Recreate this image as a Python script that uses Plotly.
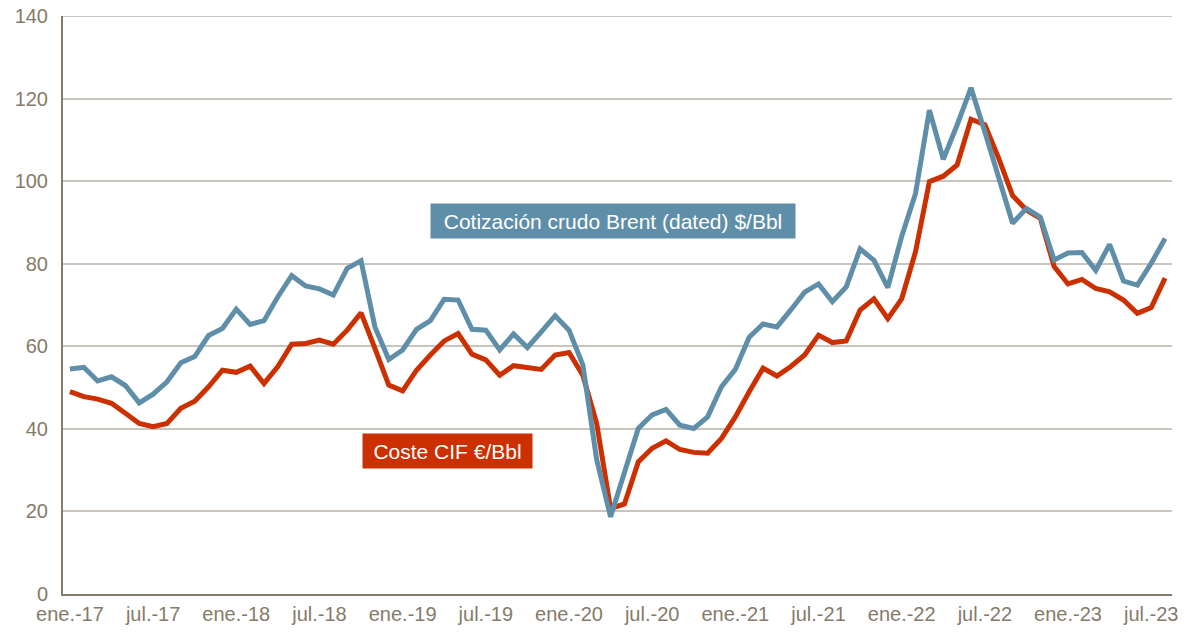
import plotly.graph_objects as go

months_es = ["ene.", "feb.", "mar.", "abr.", "may.", "jun.", "jul.", "ago.", "sep.", "oct.", "nov.", "dic."]
years = list(range(17, 24))
categories = [f"{m}-{y}" for y in years for m in months_es][:80]

brent = [54.5, 54.9, 51.6, 52.6, 50.5, 46.3, 48.4, 51.4, 56.0, 57.5, 62.6, 64.3,
         69.0, 65.3, 66.2, 72.0, 77.1, 74.6, 73.9, 72.4, 78.9, 80.7, 64.7, 56.8,
         59.1, 64.1, 66.2, 71.4, 71.2, 64.1, 63.9, 59.1, 63.0, 59.7, 63.5, 67.4,
         63.9, 55.5, 32.5, 18.7, 29.4, 40.1, 43.4, 44.7, 40.9, 40.1, 42.9, 50.2,
         54.4, 62.2, 65.4, 64.7, 68.8, 73.1, 75.1, 70.8, 74.4, 83.6, 80.8, 74.2,
         86.6, 97.0, 117.2, 105.3, 113.6, 122.6, 111.9, 100.8, 89.8, 93.4, 91.3, 80.9,
         82.6, 82.7, 78.4, 84.7, 75.8, 74.8, 80.1, 86.1]

coste_cif = [49.0, 47.8, 47.2, 46.2, 43.8, 41.3, 40.5, 41.3, 45.0, 46.7, 50.2, 54.2,
             53.7, 55.2, 51.0, 55.1, 60.5, 60.7, 61.5, 60.5, 63.9, 68.1, 59.5, 50.6,
             49.2, 54.2, 57.9, 61.3, 63.1, 58.1, 56.7, 53.0, 55.3, 54.8, 54.4, 57.9,
             58.5, 53.0, 41.3, 20.7, 21.8, 32.0, 35.3, 37.1, 35.0, 34.3, 34.1, 37.7,
             42.9, 49.0, 54.7, 52.8, 55.1, 57.9, 62.7, 60.9, 61.3, 68.8, 71.5, 66.7,
             71.5, 82.9, 99.9, 101.2, 103.9, 115.0, 113.7, 105.5, 96.5, 93.0, 91.0, 79.3,
             75.1, 76.2, 74.0, 73.2, 71.2, 68.0, 69.4, 76.5]

tick_idx = list(range(0, 80, 6))
tick_labels = [categories[i] for i in tick_idx]
y_ticks = list(range(0, 141, 20))

BLUE = "#5F8EA9"
RED = "#CC3000"
AXIS = "#857B6A"
GRID = "#C9C4BC"
FONT = "Liberation Sans, Arial, sans-serif"

x = list(range(len(categories)))

fig = go.Figure()
fig.add_trace(go.Scatter(x=x, y=coste_cif, mode="lines", name="Coste CIF €/Bbl",
                         line=dict(color=RED, width=5), hoverinfo="skip"))
fig.add_trace(go.Scatter(x=x, y=brent, mode="lines", name="Cotización crudo Brent (dated) $/Bbl",
                         line=dict(color=BLUE, width=5), hoverinfo="skip"))

# top gridline at the range edge
fig.add_shape(type="line", xref="paper", yref="y", x0=0, x1=1, y0=y_ticks[-1], y1=y_ticks[-1],
              line=dict(color=GRID, width=2), layer="below")

fig.update_layout(
    width=1179, height=625,
    margin=dict(l=55, r=15, t=8, b=39, autoexpand=False),
    paper_bgcolor="white", plot_bgcolor="white",
    showlegend=False,
    font=dict(family=FONT, color=AXIS, size=20),
    xaxis=dict(range=[-0.5, 79.5], tickvals=tick_idx, ticktext=tick_labels,
               showgrid=False, zeroline=False, showline=True, linecolor=AXIS, linewidth=2,
               ticks="", ticklabelstandoff=1, ticklabeloverflow="allow", automargin=False,
               tickfont=dict(size=20, color=AXIS)),
    yaxis=dict(range=[0, 140], tickvals=y_ticks,
               showgrid=True, gridcolor=GRID, gridwidth=2, zeroline=False,
               showline=True, linecolor=AXIS, linewidth=2, ticks="",
               ticklabelstandoff=9, ticklabeloverflow="allow", automargin=False,
               tickfont=dict(size=20, color=AXIS)),
    annotations=[
        dict(xref="paper", yref="paper", x=0.496, y=0.646, xanchor="center", yanchor="middle",
             text="Cotización crudo Brent (dated) $/Bbl", showarrow=False,
             font=dict(size=21, color="white", family=FONT),
             bgcolor=BLUE, borderpad=5, width=354, height=24),
        dict(xref="paper", yref="paper", x=0.3467, y=0.248, xanchor="center", yanchor="middle",
             text="Coste CIF €/Bbl", showarrow=False,
             font=dict(size=21, color="white", family=FONT),
             bgcolor=RED, borderpad=5, width=159, height=24),
    ],
)

fig.write_html("out.html")
